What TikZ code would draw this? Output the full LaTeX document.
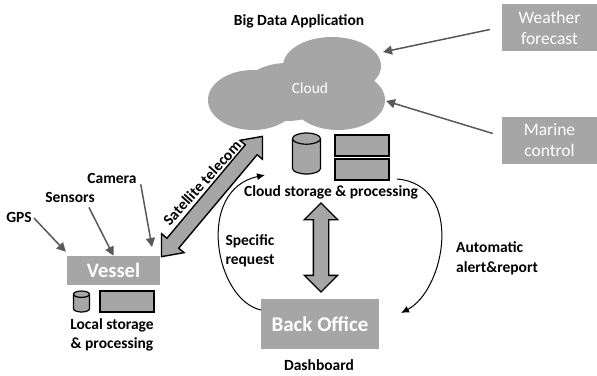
\documentclass[tikz,border=0pt]{standalone}
\usepackage{fontspec}
\setmainfont{Carlito}
\usetikzlibrary{arrows.meta,calc,shapes.arrows,shapes.geometric}
\definecolor{boxgray}{HTML}{A6A6A6}
\definecolor{linegray}{HTML}{595959}
\begin{document}
\begin{tikzpicture}
  [x=1pt,y=-1pt,
   label/.style={font=\bfseries\fontsize{15.5}{19.5}\selectfont,inner sep=0pt,align=center},
   side label/.style={label,align=left},
   source/.style={fill=boxgray,text=white,font=\fontsize{17.5}{21}\selectfont,minimum width=95pt,minimum height=47pt,inner sep=0pt,align=center},
   station/.style={fill=boxgray,text=white,font=\bfseries\fontsize{20.5}{24}\selectfont,inner sep=0pt},
   puff/.style={fill=boxgray},
   feed/.style={draw=linegray,line width=1.5pt,-{Triangle[length=9pt,width=9pt]}},
   flow/.style={draw=black,line width=1pt,-{Latex[length=8pt,width=7pt]}},
   link/.style={double arrow,draw=black,line width=1.4pt,fill=boxgray,inner xsep=0pt,inner ysep=7pt},
   store/.style={draw=black,line width=1.2pt,fill=boxgray,minimum width=54pt,inner sep=0pt},
   drum/.style={cylinder,shape border rotate=90,draw=black,line width=1.2pt,fill=boxgray,aspect=0.4,inner ysep=0pt,anchor=shape center}]

  \useasboundingbox (0,0) rectangle (597,375);

  % cloud
  \fill[puff] (253,100) ellipse [x radius=45pt,y radius=30pt];
  \fill[puff] (287,92) ellipse [x radius=46pt,y radius=29pt];
  \fill[puff] (332,66) ellipse [x radius=49pt,y radius=29pt];
  \fill[puff] (338,100) ellipse [x radius=47pt,y radius=30pt];
  \node[text=white,font=\fontsize{15.5}{18}\selectfont,inner sep=0pt] (cloud) at (310,88) {Cloud};
  \coordinate (cloud in) at (383,52);
  \coordinate (cloud side) at (386,101);
  \node[label] (application) at (299,21) {Big Data Application};

  % outside sources
  \node[source] (weather) at (549.5,27.5) {Weather\\forecast};
  \node[source] (marine) at (549.5,140.5) {Marine\\control};

  % cloud storage
  \node[drum,inner xsep=14pt,minimum height=41pt] (cloud drum) at (306.5,153.5) {};
  \node[store,minimum height=21pt] (cloud top) at (362,145.5) {};
  \node[store,minimum height=21pt] (cloud bottom) at (362,169.5) {};
  \node[label] (cloud text) at (331,192) {Cloud storage \& processing};

  % vessel
  \node[station,minimum width=93pt,minimum height=29pt] (vessel) at (113.5,270.5) {Vessel};
  \node[drum,inner xsep=8pt,minimum height=21pt] (vessel drum) at (81.5,301.5) {};
  \node[store,minimum height=21pt] (vessel store) at (127,301.5) {};
  \node[label] (vessel text) at (112,335) {Local storage\\\& processing};
  \node[label] (gps) at (19,217) {GPS};
  \node[label] (sensors) at (70,197) {Sensors};
  \node[label] (camera) at (112,178) {Camera};
  \coordinate (vessel top) at (152,247);

  % back office
  \node[station,font=\bfseries\fontsize{21}{24}\selectfont,minimum width=118pt,minimum height=50pt] (office) at (320,324) {Back Office};
  \node[label] (dashboard) at (319,365) {Dashboard};
  \coordinate (office left) at (261,310);
  \coordinate (office right) at (401,313);
  \coordinate (storage left) at (265,175);
  \coordinate (storage right) at (397,179);
  \node[side label] (request) at (250,251) {Specific\\request};
  \node[side label,anchor=west] (report) at (456,258.5) {Automatic\\alert\&report};

  % big arrows
  \node[link,rotate=50,minimum height=157pt,double arrow head extend=7pt,double arrow tip angle=80] (satellite) at (212,196.5) {};
  \node[link,rotate=90,minimum height=89pt,double arrow head extend=9pt] (exchange) at (321,247.5) {};
  \node[label,rotate=48] (telecom) at (202,183) {Satellite telecom};

  % connectors
  \draw[feed] (gps.east) ++(2,1) -- ($(vessel.north west)+(-1,-4)$);
  \draw[feed] (sensors.south east) ++(-6,5) -- (vessel.north);
  \draw[feed] (camera.south east) ++(4,1) -- (vessel top);
  \draw[feed] (weather.west) ++(-12,2) -- (cloud in);
  \draw[feed] (marine.west) ++(-9,-7) -- (cloud side);
  \draw[flow] (office left) .. controls (215,300) and (195,190) .. (storage left);
  \draw[flow] (storage right) .. controls (465,185) and (445,290) .. (office right);
\end{tikzpicture}
\end{document}
